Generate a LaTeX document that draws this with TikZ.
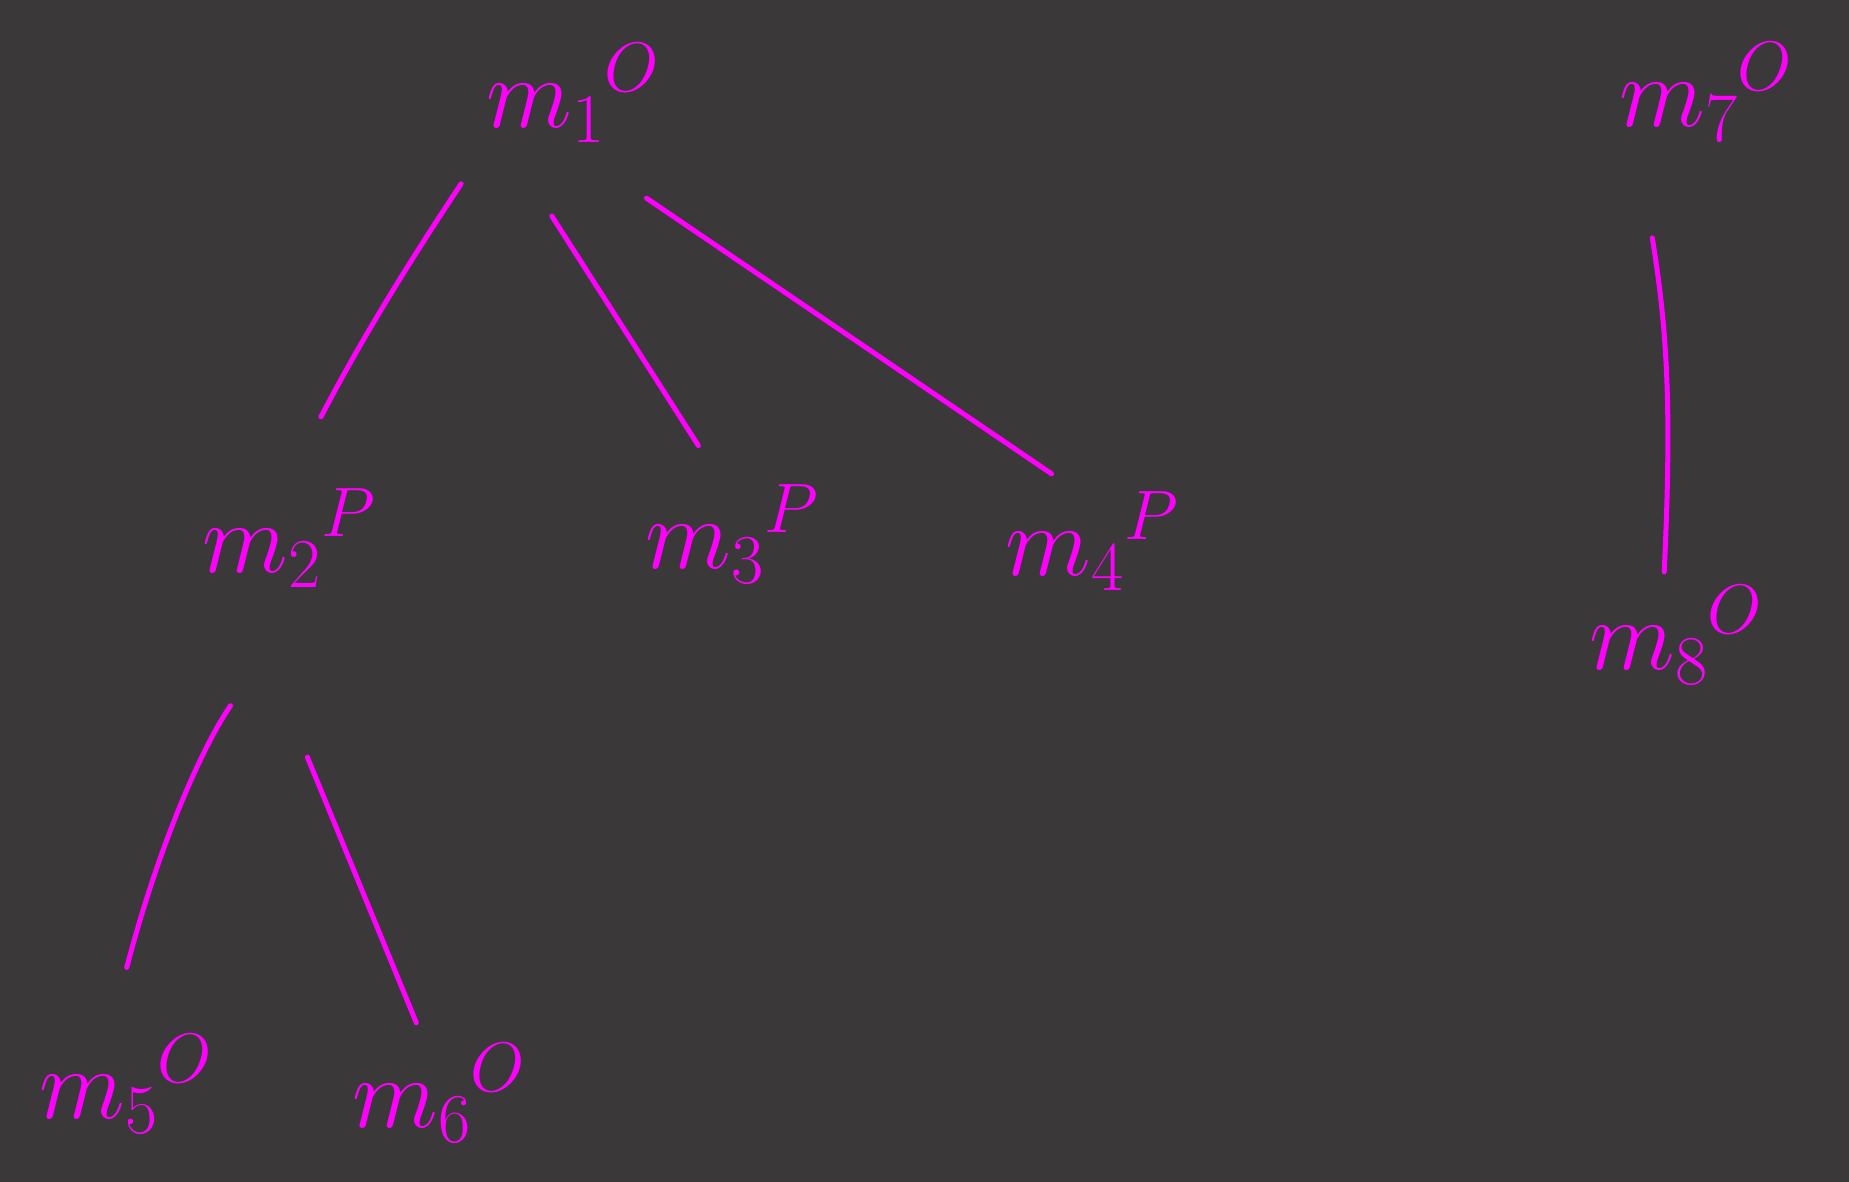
\RequirePackage{fix-cm}
\documentclass[tikz,border=0pt]{standalone}
\definecolor{bgc}{RGB}{58,56,57}
\definecolor{ink}{RGB}{255,0,255}
\begin{document}
\begin{tikzpicture}[x=1pt,y=-1pt,
  lab/.style={text=ink, inner sep=0pt, outer sep=0pt, rectangle, font=\fontsize{100}{100}\selectfont},
  edge/.style={draw=ink, line width=5pt, line cap=round}]
\fill[bgc] (0,0) rectangle (1849,1182);
\useasboundingbox (0,0) rectangle (1849,1182);
\node[lab, minimum width=197pt, minimum height=135pt] (m1) at (573,93) {$m_1{}^{O}$};
\node[lab, minimum width=188pt, minimum height=120pt] (m2) at (289,538) {$m_2{}^{P}$};
\node[lab, minimum width=179pt, minimum height=123pt] (m3) at (732,534) {$m_3{}^{P}$};
\node[lab, minimum width=220pt, minimum height=185pt] (m4) at (1092,541) {$m_4{}^{P}$};
\node[lab, minimum width=185pt, minimum height=148pt] (m5) at (126,1084) {$m_5{}^{O}$};
\node[lab, minimum width=164pt, minimum height=144pt] (m6) at (439,1093) {$m_6{}^{O}$};
\node[lab, minimum width=233pt, minimum height=203pt] (m7) at (1706,92) {$m_7{}^{O}$};
\node[lab, minimum width=174pt, minimum height=174pt] (m8) at (1676,635) {$m_8{}^{O}$};
\draw[edge, shorten <=28pt, shorten >=69pt] (m1.215) to[bend right=3] (m2.north);
\draw[edge, shorten <=66pt, shorten >=32pt] (m1.230) to (m3.105);
\draw[edge, shorten <=67pt, shorten >=-45pt] (m1.285) to (m4.130);
\draw[edge, shorten <=131pt, shorten >=44pt] (m2.285) to[bend right=10] (m5.98);
\draw[edge, shorten <=172pt, shorten >=-2pt] (m2.232) to (m6.108);
\draw[edge, shorten <=45pt, shorten >=-24pt] (m7.239) to[bend left=6] (m8.97);
\end{tikzpicture}
\end{document}
